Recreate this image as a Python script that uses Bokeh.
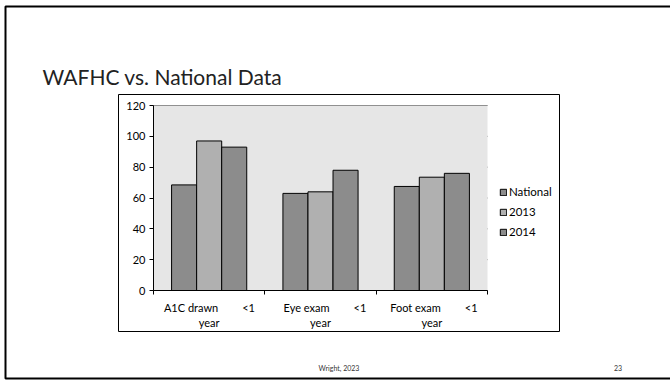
from bokeh.plotting import figure
from bokeh.models import (Range1d, FixedTicker, LinearAxis, BoxAnnotation, Legend,
                          LegendItem, ColumnDataSource)
from bokeh.core.properties import value
from bokeh.transform import dodge
from bokeh.embed import file_html
from bokeh.resources import INLINE

# ---- data -------------------------------------------------------------
cat_line1 = ["A1C drawn", "Eye exam", "Foot exam"]
cat_tail = ["<1", "<1", "<1"]
cat_line2 = ["year", "year", "year"]
series_names = ["National", "2013", "2014"]
national = [68.5, 63, 67.5]
y2013 = [97, 64, 73.5]
y2014 = [93, 78, 76]
y_ticks = [0, 20, 40, 60, 80, 100, 120]
y_max = 120

# ---- page geometry (pixels) --------------------------------------------
W, H = 670, 380
PL, PR, PT, PB = 153, 487, 105, 290   # edges of the chart's plot area

FONT = "Lato"
DARK = "#8c8c8c"
LIGHT = "#b0b0b0"

n = len(cat_line1)

# The frame fills the whole page; the default ranges are page pixels
# (y counted from the top), and the "chart" ranges place the data so that
# categories 0..n and values 0..y_max land on the plot area.
kx = n / (PR - PL)
ky = y_max / (PB - PT)
p = figure(width=W, height=H, x_range=Range1d(0, W), y_range=Range1d(H, 0),
           output_backend="svg", toolbar_location=None, title=None,
           x_axis_location=None, y_axis_location=None, min_border=0)
p.extra_x_ranges = {"chart": Range1d(-PL * kx, n + (W - PR) * kx)}
p.extra_y_ranges = {"chart": Range1d(-(H - PB) * ky, y_max + PT * ky)}
p.xgrid.visible = False
p.ygrid.visible = False
p.background_fill_color = "white"
p.border_fill_color = "white"
p.outline_line_color = None

CH = dict(x_range_name="chart", y_range_name="chart")

# plot-area fill and horizontal grid lines
p.add_layout(BoxAnnotation(left=0, right=n, bottom=0, top=y_max, **CH,
                           fill_color="#e6e6e6", fill_alpha=1, line_color=None,
                           level="underlay"))
p.segment(x0=[0] * len(y_ticks), x1=[n] * len(y_ticks), y0=y_ticks, y1=y_ticks,
          line_color="#3a3a3a", line_width=1, level="underlay", **CH)

# axes
yax = LinearAxis(fixed_location=0, bounds=(0, y_max), **CH)
yax.ticker = FixedTicker(ticks=y_ticks)
yax.axis_line_color = "black"
yax.major_tick_line_color = "black"
yax.major_tick_in = 0
yax.major_tick_out = 4
yax.minor_tick_line_color = None
yax.major_label_standoff = 4
yax.major_label_text_font = FONT
yax.major_label_text_font_size = "11px"
yax.major_label_text_color = "black"
p.add_layout(yax, "left")

xax = LinearAxis(fixed_location=0, bounds=(0, n), **CH)
xax.ticker = FixedTicker(ticks=list(range(n + 1)))
xax.axis_line_color = "black"
xax.major_tick_line_color = "black"
xax.major_tick_in = 0
xax.major_tick_out = 4
xax.minor_tick_line_color = None
xax.major_label_text_color = None
xax.major_label_text_font_size = "1px"
p.add_layout(xax, "below")

# ---- bars -----------------------------------------------------------------
centers = [i + 0.5 for i in range(n)]
src = ColumnDataSource(dict(x=centers, national=national, y2013=y2013, y2014=y2014))
bw = 0.225
crange = p.extra_x_ranges["chart"]
r1 = p.vbar(x=dodge("x", -bw, range=crange), top="national", width=bw, source=src,
            fill_color=DARK, line_color="black", line_width=1, **CH)
r2 = p.vbar(x="x", top="y2013", width=bw, source=src,
            fill_color=LIGHT, line_color="black", line_width=1, **CH)
r3 = p.vbar(x=dodge("x", bw, range=crange), top="y2014", width=bw, source=src,
            fill_color=DARK, line_color="black", line_width=1, **CH)

legend = Legend(items=[LegendItem(label=series_names[0], renderers=[r1]),
                       LegendItem(label=series_names[1], renderers=[r2]),
                       LegendItem(label=series_names[2], renderers=[r3])],
                location=(499, 142), orientation="vertical",
                border_line_color=None, background_fill_alpha=0,
                padding=0, margin=0, spacing=7,
                glyph_width=8, glyph_height=8, label_height=12,
                label_standoff=2, label_text_font=FONT,
                label_text_font_size="11.5px", label_text_color="black")
p.add_layout(legend)

# ---- category labels (two lines under each group) ---------------------
TXT = dict(text_font=value(FONT), text_font_size="11px", text_color="black",
           text_baseline="alphabetic")
p.text(x=centers, y=[306.5] * n, text=cat_line1, x_offset=9, text_align="right",
       x_range_name="chart", **TXT)
p.text(x=centers, y=[306.5] * n, text=cat_tail, x_offset=33, text_align="left",
       x_range_name="chart", **TXT)
p.text(x=centers, y=[322] * n, text=cat_line2, text_align="center",
       x_range_name="chart", **TXT)

# ---- slide decorations ----------------------------------------------------
p.add_layout(BoxAnnotation(left=118, right=559, top=94, bottom=331,
                           fill_color=None, fill_alpha=0,
                           line_color="black", line_alpha=1, line_width=1))
p.add_layout(BoxAnnotation(left=5, right=W + 30, top=6, bottom=378,
                           fill_color=None, fill_alpha=0,
                           line_color="black", line_alpha=1, line_width=2))

p.text(x=[42], y=[76], text=["WAFHC vs. National Data"], text_align="left",
       text_baseline="alphabetic", text_font=value(FONT),
       text_font_size="21px", text_color="#222222")
p.text(x=[338.5, 617.5], y=[367, 367], text=["Wright, 2023", "23"],
       text_align="center", text_baseline="alphabetic", text_font=value(FONT),
       text_font_size="7px", text_color="#333333")

open("out.html", "w").write(file_html(p, INLINE))
